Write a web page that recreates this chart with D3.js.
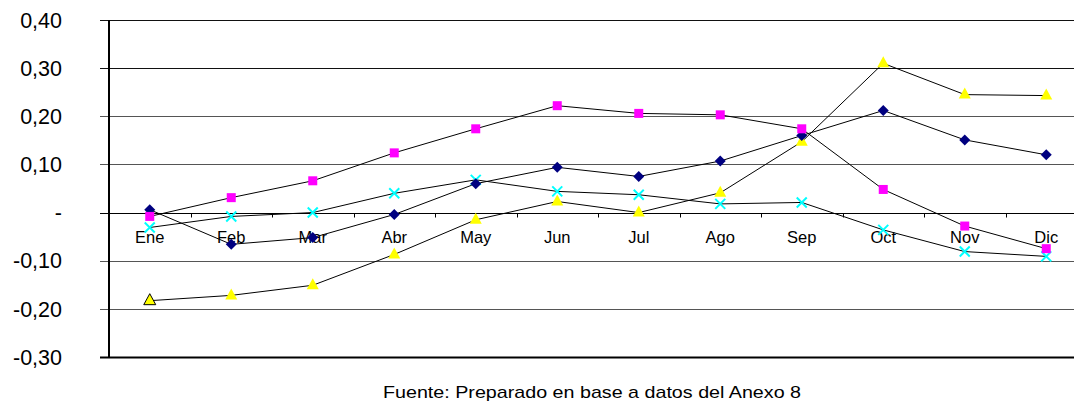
<!DOCTYPE html>
<html><head><meta charset="utf-8">
<script src="https://cdn.jsdelivr.net/npm/d3@7"></script>
<style>body{margin:0;background:#fff}svg{display:block;font-family:Arial,"Liberation Sans",sans-serif}</style>
</head><body><svg id="c" width="1074" height="401"></svg>
<script>
const months = ["Ene","Feb","Mar","Abr","May","Jun","Jul","Ago","Sep","Oct","Nov","Dic"];
const serieDiamond = [0.006,-0.066,-0.052,-0.004,0.060,0.094,0.075,0.107,0.160,0.212,0.151,0.120];
const serieSquare = [-0.008,0.031,0.066,0.124,0.174,0.222,0.206,0.203,0.174,0.048,-0.028,-0.075];
const serieTriangle = [-0.183,-0.172,-0.151,-0.087,-0.015,0.023,0.000,0.041,0.147,0.310,0.245,0.243];
const serieCross = [-0.031,-0.008,0.000,0.040,0.068,0.044,0.037,0.018,0.021,-0.036,-0.081,-0.091];
const yTicks = [-0.3,-0.2,-0.1,0,0.1,0.2,0.3,0.4];
const yTickLabels = ["-0,30","-0,20","-0,10","-","0,10","0,20","0,30","0,40"];
const footer = "Fuente: Preparado en base a datos del Anexo 8";

const svg = d3.select("#c");
const L = 109, R = 1087, T = 20, B = 357;
const x = d3.scaleBand().domain(months).range([L, R]);
const y = d3.scaleLinear().domain([-0.3, 0.4]).range([B, T]);
const cx = m => x(m) + x.bandwidth()/2;

// gridlines
const grid = svg.append("g");
yTicks.forEach(t => {
  grid.append("line").attr("x1", L-9).attr("x2", R).attr("y1", Math.round(y(t))+0.5).attr("y2", Math.round(y(t))+0.5)
    .attr("stroke", (t===0||t===-0.3) ? "#000" : (t>=0.3 ? "#111" : "#555"))
    .attr("stroke-width", t===-0.3 ? 2 : 1);
});
// left axis
svg.append("line").attr("x1", L).attr("x2", L).attr("y1", T).attr("y2", B+1).attr("stroke","#000").attr("stroke-width",2);
// y labels
yTicks.forEach((t,i) => {
  svg.append("text").attr("x", 62).attr("y", y(t)).attr("dy","0.36em").attr("text-anchor","end")
    .attr("font-size", 21.5).attr("fill","#000").text(yTickLabels[i]);
});
// x ticks at zero line
const y0 = Math.round(y(0))+0.5;
months.forEach((m,i) => {
  if (i>0) svg.append("line").attr("x1", Math.round(x(m))+0.5).attr("x2", Math.round(x(m))+0.5)
    .attr("y1", y0).attr("y2", y0+4).attr("stroke","#000");
});
// category labels
months.forEach(m => {
  svg.append("text").attr("x", cx(m)).attr("y", 237).attr("dy","0.35em").attr("text-anchor","middle")
    .attr("font-size", 16.5).attr("fill","#000").text(m);
});

const line = d3.line().x((d,i)=>cx(months[i])).y(d=>y(d));
const series = [
  {vals: serieCross, type:"cross", color:"#00FFFF"},
  {vals: serieTriangle, type:"tri", color:"#FFFF00"},
  {vals: serieDiamond, type:"diamond", color:"#000080"},
  {vals: serieSquare, type:"square", color:"#FF00FF"}
];
series.forEach(s => {
  svg.append("path").attr("d", line(s.vals)).attr("fill","none").attr("stroke","#000").attr("stroke-width",1);
});
series.forEach(s => {
  const g = svg.append("g");
  s.vals.forEach((v,i) => {
    const px = cx(months[i]), py = y(v);
    if (s.type==="square") {
      g.append("rect").attr("x",px-4.5).attr("y",py-4.5).attr("width",9).attr("height",9).attr("fill",s.color);
    } else if (s.type==="diamond") {
      g.append("path").attr("d",`M${px},${py-5.5}L${px+5.5},${py}L${px},${py+5.5}L${px-5.5},${py}Z`).attr("fill",s.color);
    } else if (s.type==="tri") {
      g.append("path").attr("d",`M${px},${py-7}L${px+6},${py+4}L${px-6},${py+4}Z`).attr("fill",s.color)
        .attr("stroke", i===0 ? "#000" : "none").attr("stroke-width",1);
    } else {
      g.append("path").attr("d",`M${px-5},${py-5}L${px+5},${py+5}M${px+5},${py-5}L${px-5},${py+5}`)
        .attr("stroke",s.color).attr("stroke-width",2).attr("fill","none");
    }
  });
});
svg.append("text").attr("x", 592).attr("y", 392).attr("dy","0.35em").attr("text-anchor","middle")
  .attr("font-size", 17).attr("textLength", 418).attr("lengthAdjust","spacingAndGlyphs")
  .attr("fill","#000").text(footer);
</script></body></html>
